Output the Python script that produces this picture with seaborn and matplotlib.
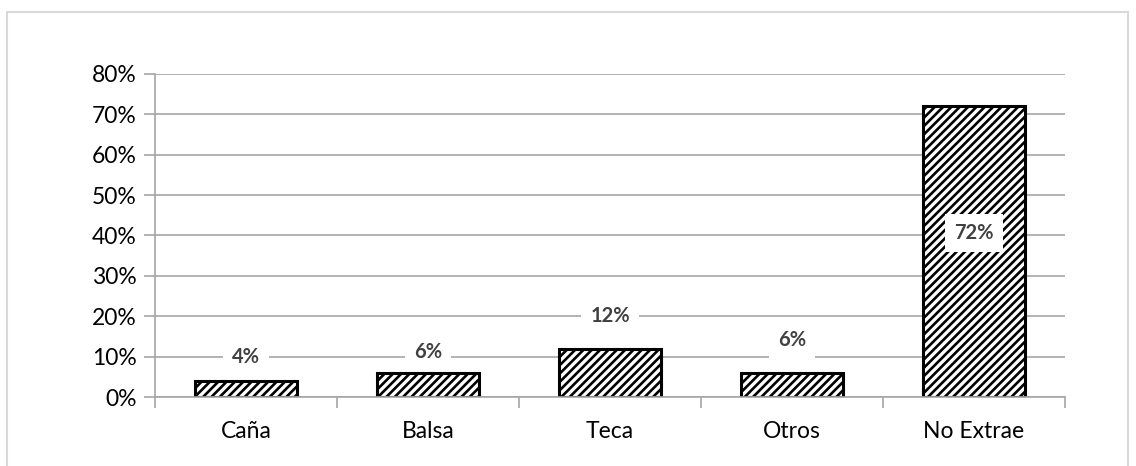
import matplotlib
matplotlib.use("Agg")
import matplotlib.pyplot as plt
import seaborn as sns
import pandas as pd
from matplotlib.patches import Rectangle
from matplotlib.ticker import PercentFormatter, FixedLocator

categories = ["Caña", "Balsa", "Teca", "Otros", "No Extrae"]
values = [4, 6, 12, 6, 72]
value_labels = ["4%", "6%", "12%", "6%", "72%"]
label_heights = [9.9, 11.1, 20.0, 14.1, 40.6]

sns.set_theme(style="white")
plt.rcParams["font.family"] = ["Lato", "DejaVu Sans"]
plt.rcParams["hatch.linewidth"] = 1.9
plt.rcParams["hatch.color"] = "black"

df = pd.DataFrame({"cat": categories, "val": values})

fig = plt.figure(figsize=(11.36, 4.66), dpi=100)
ax = fig.add_axes([155 / 1136, 1 - 397 / 466, 910 / 1136, 323 / 466])

sns.barplot(data=df, x="cat", y="val", ax=ax, color="white", width=0.56,
            edgecolor="black", linewidth=2.2, hatch="////", saturation=1)

ax.set_ylim(0, 80)
ax.set_xlim(-0.5, 4.5)
ax.yaxis.set_major_locator(FixedLocator(range(0, 81, 10)))
ax.yaxis.set_major_formatter(PercentFormatter(decimals=0))
ax.grid(axis="y", color="#a6a6a6", linewidth=1.2)
ax.set_axisbelow(True)
ax.set_xlabel("")
ax.set_ylabel("")

for side in ["top", "right"]:
    ax.spines[side].set_visible(False)
ax.spines["left"].set_color("#a6a6a6")
ax.spines["bottom"].set_color("#a6a6a6")
ax.spines["left"].set_linewidth(1.2)
ax.spines["bottom"].set_linewidth(1.2)

ax.tick_params(axis="y", left=True, length=8, color="#a6a6a6", width=1.2,
               labelsize=16.5, labelcolor="black", pad=5)
ax.tick_params(axis="x", bottom=False, labelsize=16.5, labelcolor="black", pad=11)

# category boundary ticks on the x axis
ax.set_xticks([i - 0.5 for i in range(6)], minor=True)
ax.tick_params(axis="x", which="minor", bottom=True, length=8, color="#a6a6a6", width=1.2)

for i, (txt, h) in enumerate(zip(value_labels, label_heights)):
    ax.text(i, h, txt, ha="center", va="center", fontsize=14.5, fontweight="bold",
            color="#404040",
            bbox=dict(boxstyle="square,pad=0.45", facecolor="white", edgecolor="none"))

# light outer frame of the chart area
fig.patches.append(Rectangle((7 / 1136, -0.05), 1121 / 1136, 1 - 12 / 466 + 0.05,
                             transform=fig.transFigure, fill=False,
                             edgecolor="#d9d9d9", linewidth=1.5))

fig.savefig("out.png", dpi=100, facecolor="white")
